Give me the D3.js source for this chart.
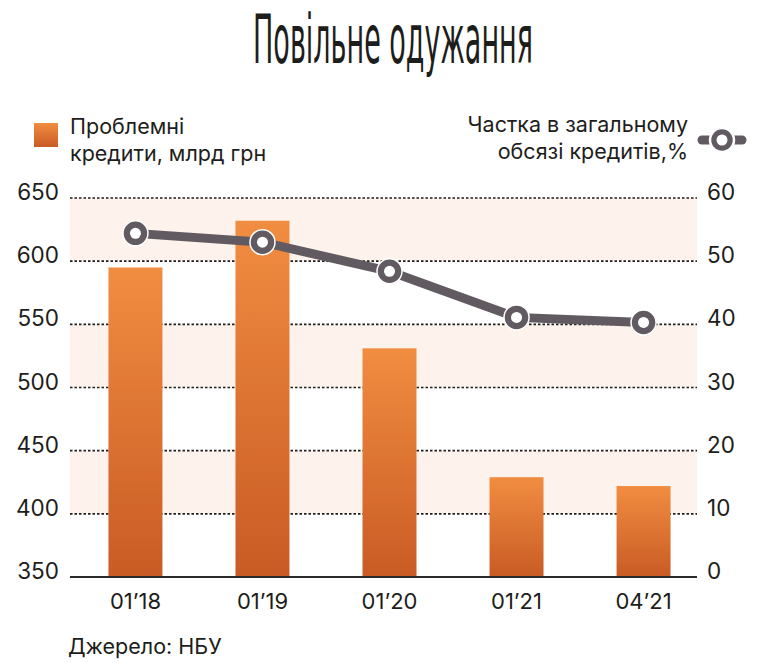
<!DOCTYPE html>
<html>
<head>
<meta charset="utf-8">
<script src="https://cdn.jsdelivr.net/npm/d3@7"></script>
<style>
  body { margin: 0; background: #fff; }
  text { font-family: Inter, "Noto Sans", sans-serif; fill: #1d1d1b; }
</style>
</head>
<body>
<svg id="chart" width="764" height="663"></svg>
<script>
const periods = ["01’18", "01’19", "01’20", "01’21", "04’21"];
const badLoans = [595, 632, 531, 429, 422];
const sharePct = [54.4, 53.0, 48.4, 41.1, 40.3];
const leftTicks = [350, 400, 450, 500, 550, 600, 650];
const rightTicks = [0, 10, 20, 30, 40, 50, 60];
const bands = [[400, 450], [500, 550], [600, 650]];

const svg = d3.select("#chart");

const margin = {top: 198, bottom: 577, left: 70, right: 697};

const x = d3.scaleBand()
  .domain(periods)
  .range([72, 707])
  .paddingInner(0.575)
  .paddingOuter(0.287);

const y = d3.scaleLinear()
  .domain([350, 650])
  .range([margin.bottom, margin.top]);

const y2 = d3.scaleLinear()
  .domain([0, 60])
  .range([margin.bottom, margin.top]);

// gradient for bars
const defs = svg.append("defs");
const grad = defs.append("linearGradient")
  .attr("id", "barGrad")
  .attr("x1", 0).attr("y1", 0).attr("x2", 0).attr("y2", 1);
grad.append("stop").attr("offset", "0%").attr("stop-color", "#f18d41");
grad.append("stop").attr("offset", "100%").attr("stop-color", "#c95b24");

// title, squeezed to the condensed look of the original
const title = svg.append("text")
  .attr("text-anchor", "middle")
  .style("font-family", "'DejaVu Sans Condensed', 'Liberation Sans Narrow', sans-serif")
  .style("font-size", "68px")
  .text("Повільне одужання");
const titleLen = title.node().getComputedTextLength();
title.attr("transform", `translate(393,63) scale(${280 / titleLen},1)`);

// pink bands
svg.append("g")
  .selectAll("rect")
  .data(bands)
  .join("rect")
  .attr("x", margin.left)
  .attr("width", margin.right - margin.left)
  .attr("y", d => y(d[1]))
  .attr("height", d => y(d[0]) - y(d[1]))
  .attr("fill", "#fdf2ec");

// dotted gridlines
svg.append("g")
  .selectAll("line")
  .data(leftTicks.slice(1))
  .join("line")
  .attr("x1", margin.left)
  .attr("x2", margin.right)
  .attr("y1", d => y(d))
  .attr("y2", d => y(d))
  .attr("stroke", "#1d1d1b")
  .attr("stroke-width", 1.6)
  .attr("stroke-dasharray", "2.5,2");

// left axis labels
svg.append("g")
  .selectAll("text")
  .data(leftTicks)
  .join("text")
  .attr("x", 59)
  .attr("y", d => y(d) + 2)
  .attr("text-anchor", "end")
  .style("font-size", "22.5px")
  .text(d => d);

// right axis labels
svg.append("g")
  .selectAll("text")
  .data(rightTicks)
  .join("text")
  .attr("x", 707)
  .attr("y", d => y2(d) + 2)
  .style("font-size", "22.5px")
  .text(d => d);

// bars
svg.append("g")
  .selectAll("rect")
  .data(badLoans)
  .join("rect")
  .attr("x", (d, i) => x(periods[i]))
  .attr("width", x.bandwidth())
  .attr("y", d => y(d))
  .attr("height", d => y(350) - y(d))
  .attr("fill", "url(#barGrad)");

// baseline
svg.append("line")
  .attr("x1", margin.left)
  .attr("x2", margin.right)
  .attr("y1", margin.bottom)
  .attr("y2", margin.bottom)
  .attr("stroke", "#2b2b2b")
  .attr("stroke-width", 2);

// x labels
svg.append("g")
  .selectAll("text")
  .data(periods)
  .join("text")
  .attr("x", d => x(d) + x.bandwidth() / 2)
  .attr("y", 609)
  .attr("text-anchor", "middle")
  .style("font-size", "22px")
  .text(d => d);

// share line
const line = d3.line()
  .x((d, i) => x(periods[i]) + x.bandwidth() / 2)
  .y(d => y2(d));

svg.append("path")
  .datum(sharePct)
  .attr("d", line)
  .attr("fill", "none")
  .attr("stroke", "#615b61")
  .attr("stroke-width", 9);

const dots = svg.append("g")
  .selectAll("g")
  .data(sharePct)
  .join("g")
  .attr("transform", (d, i) => `translate(${x(periods[i]) + x.bandwidth() / 2},${y2(d)})`);

dots.append("circle")
  .attr("r", 12.5)
  .attr("fill", "#615b61")
  .attr("stroke", "#fff")
  .attr("stroke-width", 1.5);

dots.append("circle")
  .attr("r", 5.5)
  .attr("fill", "#fff");

// legend left
svg.append("rect")
  .attr("x", 34).attr("y", 123)
  .attr("width", 24).attr("height", 24)
  .attr("fill", "url(#barGrad)");

svg.append("text")
  .attr("x", 70).attr("y", 134)
  .style("font-size", "21.5px")
  .text("Проблемні");
svg.append("text")
  .attr("x", 70).attr("y", 161)
  .style("font-size", "21.5px")
  .text("кредити, млрд грн");

// legend right
svg.append("text")
  .attr("x", 688).attr("y", 132)
  .attr("text-anchor", "end")
  .style("font-size", "21.5px")
  .text("Частка в загальному");
svg.append("text")
  .attr("x", 688).attr("y", 159)
  .attr("text-anchor", "end")
  .style("font-size", "21.5px")
  .text("обсязі кредитів,%");

const icon = svg.append("g").attr("transform", "translate(722,140)");
icon.append("line")
  .attr("x1", -20).attr("x2", 20)
  .attr("stroke", "#615b61")
  .attr("stroke-width", 9)
  .attr("stroke-linecap", "round");
icon.append("circle")
  .attr("r", 12)
  .attr("fill", "#615b61")
  .attr("stroke", "#fff")
  .attr("stroke-width", 2.5);
icon.append("circle")
  .attr("r", 5.5)
  .attr("fill", "#fff");

// source
svg.append("text")
  .attr("x", 68).attr("y", 654)
  .style("font-size", "21.5px")
  .text("Джерело: НБУ");
</script>
</body>
</html>
